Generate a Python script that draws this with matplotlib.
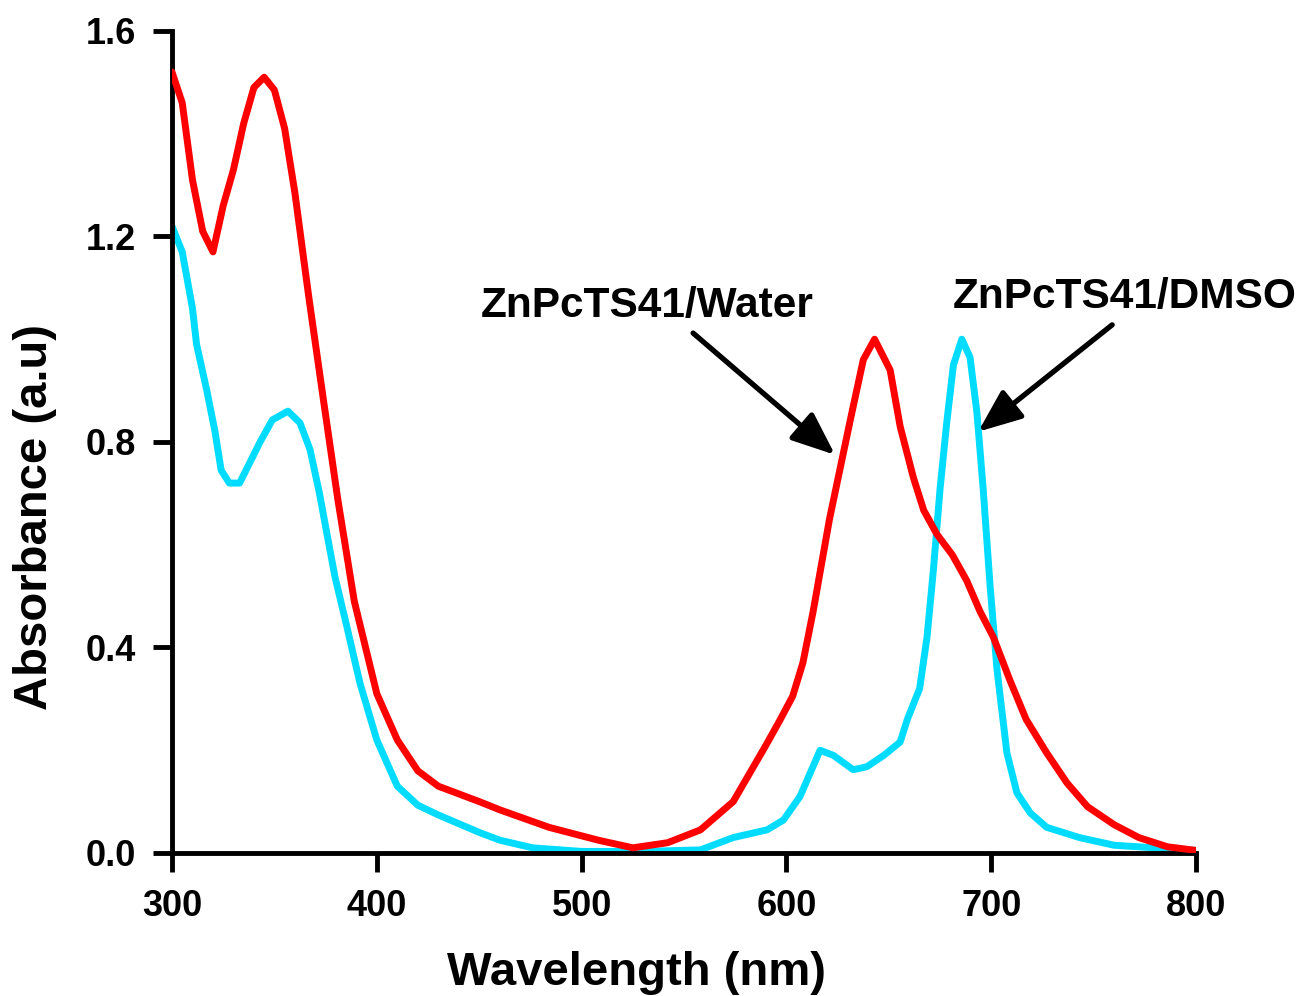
import matplotlib.pyplot as plt
import numpy as np

plt.rcParams['font.family'] = ['Liberation Sans', 'DejaVu Sans']
plt.rcParams['font.weight'] = 'bold'

# ZnPcTS41 in water (red)
water_wl = [300, 305, 310, 315, 320, 325, 330, 335, 340, 345, 350, 355, 360, 365,
            367, 374, 381, 389, 400, 410, 420, 430, 450, 460, 484, 508, 525, 542,
            558, 574, 590, 597, 603, 608, 613, 621, 626, 631, 637.5, 643, 650.6, 655.5,
            662, 667, 673.5, 681, 688, 694.5, 701, 709, 717, 727, 737, 747, 760,
            772, 786, 800]
water_abs = [1.52, 1.46, 1.31, 1.21, 1.17, 1.26, 1.33, 1.42, 1.49, 1.51, 1.485, 1.41, 1.285, 1.135,
             1.076, 0.88, 0.687, 0.49, 0.31, 0.22, 0.16, 0.13, 0.10, 0.084, 0.05, 0.025, 0.01, 0.02,
             0.045, 0.10, 0.21, 0.26, 0.305, 0.37, 0.47, 0.65, 0.745, 0.84, 0.96, 1.0, 0.94, 0.83,
             0.73, 0.667, 0.62, 0.58, 0.53, 0.47, 0.42, 0.337, 0.26, 0.195, 0.136, 0.09, 0.055,
             0.03, 0.012, 0.005]

# ZnPcTS41 in DMSO (cyan)
dmso_wl = [300, 305, 310, 312, 317, 321, 324, 328, 333, 338, 343, 349, 356.6, 362.5,
           367.4, 372, 375.7, 379.6, 385.4, 391.8, 400, 410, 420, 430, 450, 460, 476,
           500, 530, 558, 574, 590.5, 598.5, 606.6, 611.5, 616.4, 622.9, 632.6, 639.3,
           647.5, 655.5, 659, 665, 668.6, 671.7, 675, 678.3, 681.5, 685.6, 689.6, 693,
           696, 699.4, 702.8, 707.6, 712.5, 719, 727, 743, 760, 780, 800]
dmso_abs = [1.22, 1.17, 1.06, 0.99, 0.90, 0.82, 0.745, 0.72, 0.72, 0.76, 0.80, 0.843, 0.86, 0.837,
            0.785, 0.70, 0.62, 0.537, 0.44, 0.33, 0.22, 0.13, 0.093, 0.074, 0.04, 0.025, 0.01,
            0.003, 0.003, 0.006, 0.03, 0.045, 0.064, 0.11, 0.155, 0.20, 0.19, 0.162, 0.168,
            0.19, 0.216, 0.26, 0.32, 0.42, 0.55, 0.71, 0.84, 0.95, 1.0, 0.965, 0.856,
            0.71, 0.52, 0.356, 0.195, 0.117, 0.078, 0.05, 0.03, 0.015, 0.01, 0.005]

fig = plt.figure(figsize=(13.03, 9.96), dpi=100)
ax = fig.add_axes([0.132, 0.1436, 0.786, 0.8253])

ax.plot(dmso_wl, dmso_abs, color='#00dcff', lw=5, solid_joinstyle='round',
        solid_capstyle='round', zorder=2)
ax.plot(water_wl, water_abs, color='#ff0000', lw=5, solid_joinstyle='round',
        solid_capstyle='round', zorder=3)

ax.set_xlim(300, 800)
ax.set_ylim(0, 1.6)
ax.set_xticks(np.arange(300, 801, 100))
ax.set_yticks([0.0, 0.4, 0.8, 1.2, 1.6])
ax.set_yticklabels(['0.0', '0.4', '0.8', '1.2', '1.6'])

for s in ['top', 'right']:
    ax.spines[s].set_visible(False)
for s in ['left', 'bottom']:
    ax.spines[s].set_linewidth(3.5)
ax.tick_params(axis='both', width=3.5, length=14, labelsize=26, pad=12)
for lab in ax.get_xticklabels() + ax.get_yticklabels():
    lab.set_fontweight('bold')

ax.set_xlabel('Wavelength (nm)', fontsize=34, fontweight='bold')
ax.set_ylabel('Absorbance (a.u)', fontsize=34, fontweight='bold')
ax.xaxis.set_label_coords(0.454, -0.119)
ax.yaxis.set_label_coords(-0.112, 0.409)

arrow = dict(arrowstyle='-|>,head_length=1.1,head_width=0.45', lw=3.8, color='black',
             mutation_scale=24, shrinkA=0, shrinkB=0)
ax.annotate('', xy=(623.7, 0.775), xytext=(554.4, 1.012), arrowprops=arrow)
ax.annotate('', xy=(693.6, 0.82), xytext=(759, 1.028), arrowprops=arrow)
ax.text(450.9, 1.065, 'ZnPcTS41/Water', fontsize=30.5, fontweight='bold', va='center', ha='left')
ax.text(681.3, 1.082, 'ZnPcTS41/DMSO', fontsize=30.5, fontweight='bold', va='center', ha='left',
        clip_on=False)

fig.savefig('out.png', dpi=100)
